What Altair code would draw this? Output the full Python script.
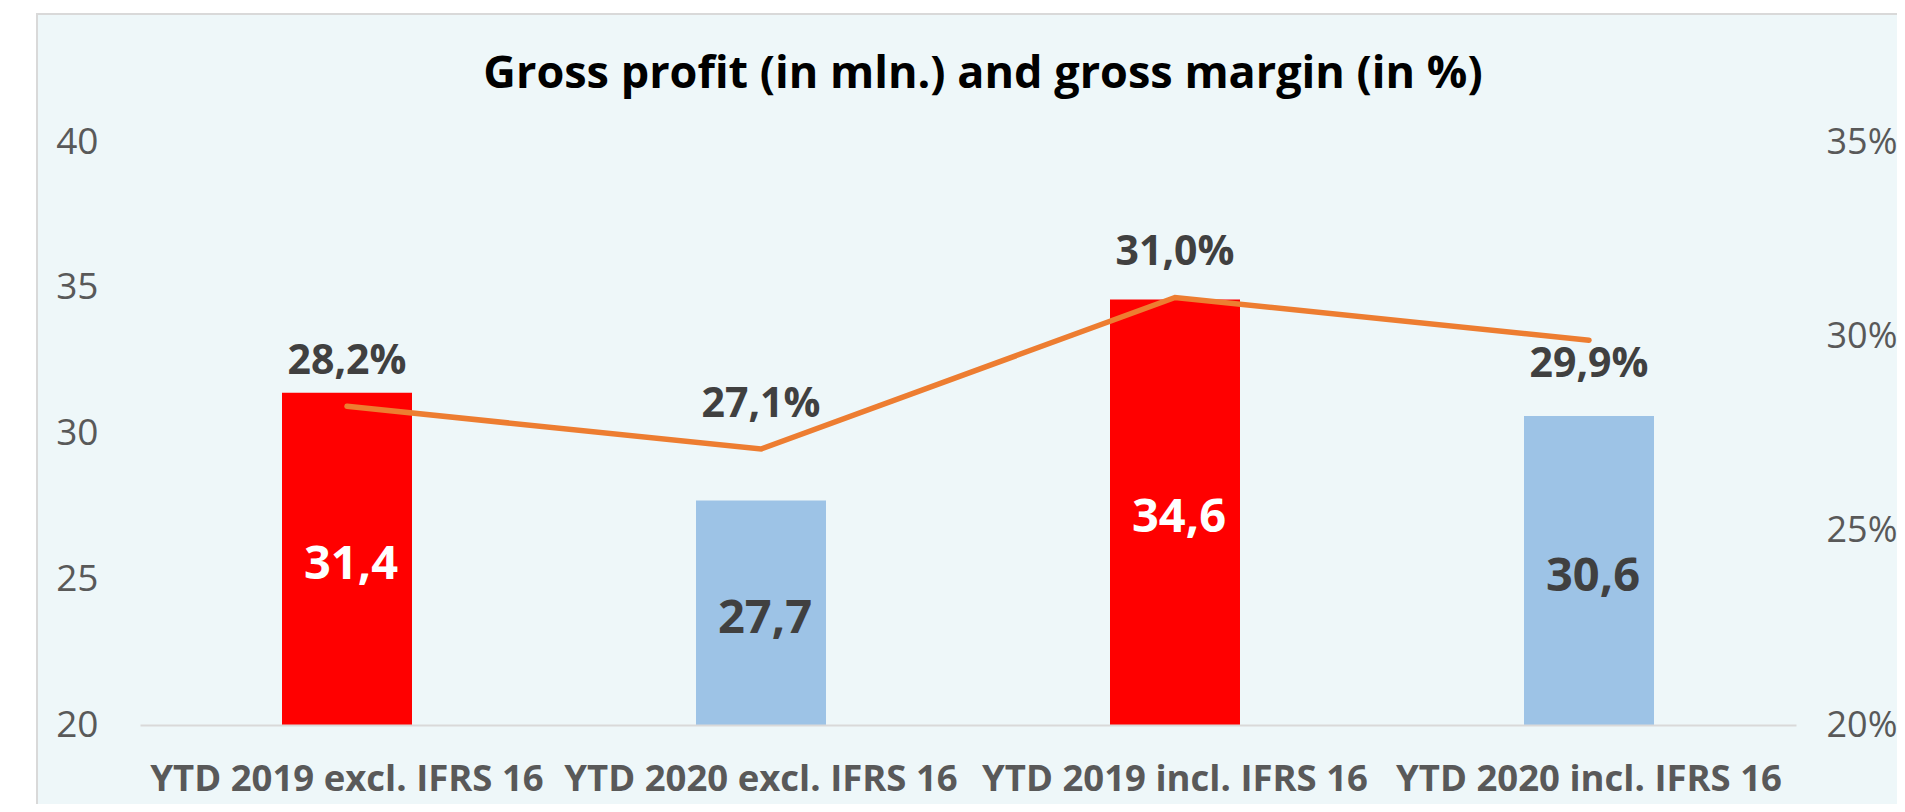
import altair as alt
import pandas as pd

title_text = "Gross profit (in mln.) and gross margin (in %)"
categories = ["YTD 2019 excl. IFRS 16", "YTD 2020 excl. IFRS 16",
              "YTD 2019 incl. IFRS 16", "YTD 2020 incl. IFRS 16"]
gross_profit = [31.4, 27.7, 34.6, 30.6]
gross_margin = [0.282, 0.271, 0.310, 0.299]
bar_colors = ["#FF0000", "#9DC3E6", "#FF0000", "#9DC3E6"]
bar_label_colors = ["#FFFFFF", "#404040", "#FFFFFF", "#404040"]
margin_label_side = ["above", "above", "above", "below"]

df = pd.DataFrame({
    "cat": categories,
    "gp": gross_profit,
    "margin": gross_margin,
    "bar_color": bar_colors,
    "label_color": bar_label_colors,
    "side": margin_label_side,
})

FONT = "Open Sans"
base = alt.Chart(df)

x_enc = alt.X(
    "cat:N", sort=categories, title=None,
    scale=alt.Scale(domain=categories, paddingInner=0.686, paddingOuter=0.343),
    axis=alt.Axis(labelAngle=0, labelFont=FONT, labelFontSize=36.5, labelFontWeight="bold",
                  labelColor="#595959", labelPadding=36, labelLimit=1000, ticks=False,
                  grid=False, domainColor="#D9D9D9", domainWidth=2, zindex=1),
)

left_scale = alt.Scale(domain=[20, 40], zero=False, nice=False)
right_scale = alt.Scale(domain=[0.20, 0.35], zero=False, nice=False)

bg = alt.Chart(alt.Data(values=[{"a": 1}])).mark_rect(
    fill="#EEF7F9", stroke="#D9D9D9", strokeWidth=2
).encode(x=alt.value(-103), x2=alt.value(1800), y=alt.value(-128), y2=alt.value(700))

title = alt.Chart(alt.Data(values=[{"t": title_text}])).mark_text(
    font=FONT, fontSize=45, fontWeight="bold", color="#000000",
    align="center", baseline="alphabetic"
).encode(text="t:N", x=alt.value(843), y=alt.value(-54))

bars = base.mark_bar().encode(
    x=x_enc,
    y=alt.Y("gp:Q", scale=left_scale, title=None,
            axis=alt.Axis(values=[20, 25, 30, 35, 40], labelFont=FONT, labelFontSize=37,
                          labelColor="#595959", labelPadding=42, ticks=False,
                          domain=False, grid=False, orient="left", zindex=1)),
    y2=alt.datum(20),
    color=alt.Color("bar_color:N", scale=None),
)

bar_labels = base.transform_calculate(
    mid="(datum.gp + 20) / 2",
    txt="replace(format(datum.gp, '.1f'), '.', ',')",
).mark_text(font=FONT, fontSize=47, fontWeight="bold", dx=4, dy=6, baseline="middle").encode(
    x=x_enc,
    y=alt.Y("mid:Q", scale=left_scale, axis=None),
    text="txt:N",
    color=alt.Color("label_color:N", scale=None),
)

line = base.mark_line(color="#ED7D31", strokeWidth=5.5, strokeCap="round").encode(
    x=x_enc,
    y=alt.Y("margin:Q", scale=right_scale, title=None,
            axis=alt.Axis(values=[0.20, 0.25, 0.30, 0.35], format=".0%", labelFont=FONT,
                          labelFontSize=36, labelColor="#595959", labelPadding=30,
                          ticks=False, domain=False, grid=False, orient="right", zindex=1)),
)

pct_txt = "replace(format(datum.margin * 100, '.1f'), '.', ',') + '%'"
pct_above = base.transform_filter("datum.side == 'above'").transform_calculate(
    txt=pct_txt
).mark_text(font=FONT, fontSize=41, fontWeight="bold", color="#404040", dy=-44,
            baseline="middle").encode(
    x=x_enc,
    y=alt.Y("margin:Q", scale=right_scale, axis=None),
    text="txt:N",
)
pct_below = base.transform_filter("datum.side == 'below'").transform_calculate(
    txt=pct_txt
).mark_text(font=FONT, fontSize=41, fontWeight="bold", color="#404040", dy=25,
            baseline="middle").encode(
    x=x_enc,
    y=alt.Y("margin:Q", scale=right_scale, axis=None),
    text="txt:N",
)

chart = alt.layer(bg, title, bars, bar_labels, line, pct_above, pct_below).resolve_scale(
    y="independent"
).properties(
    width=1656,
    height=583,
    autosize=alt.AutoSizeParams(type="none"),
    padding={"left": 132, "top": 134, "right": 101, "bottom": 79},
).configure(background="white").configure_view(strokeWidth=0)

chart.save("out.html", embed_options={"renderer": "svg", "actions": False})
